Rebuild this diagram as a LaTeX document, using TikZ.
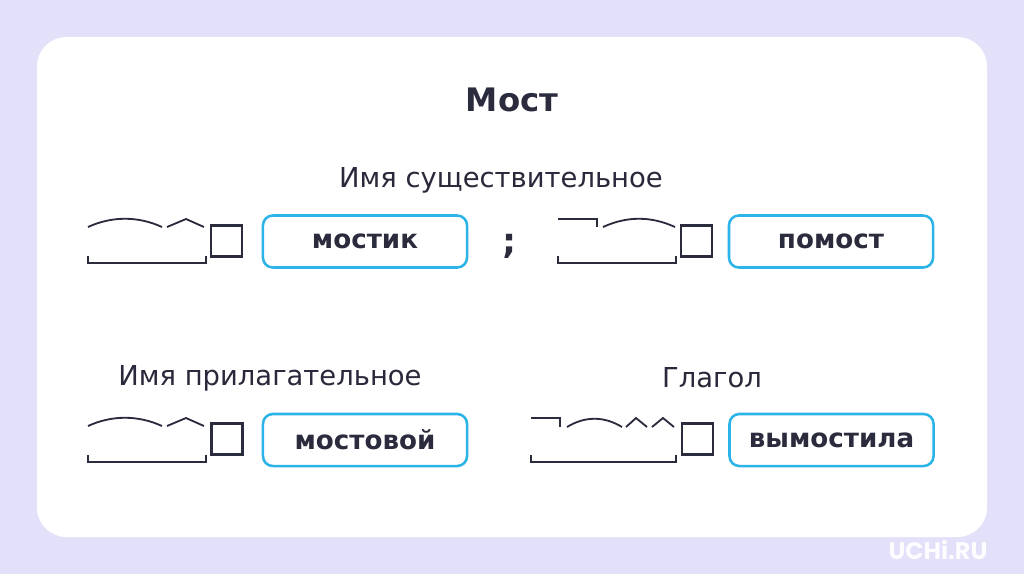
\documentclass[tikz,border=0pt]{standalone}
\usepackage{fontspec}
\setmainfont{DejaVu Sans}
\newfontfamily\logofont{Poppins}
\usetikzlibrary{positioning}
\definecolor{lavender}{RGB}{227,224,250}
\definecolor{ink}{HTML}{2B2B3E}
\definecolor{frame}{HTML}{2CB4E8}

\begin{document}
\begin{tikzpicture}[
  x=0.025cm,y=-0.025cm,
  word/.style={draw=frame,line width=1.8pt,rounded corners=7pt,minimum width=5.1cm,minimum height=1.3cm,font=\fontsize{18.6}{22}\selectfont\bfseries,text=ink},
  ending/.style={draw=ink,line width=1.6pt,minimum size=0.78cm,inner sep=0pt},
  morph/.style={draw=ink,line width=1.3pt},
  part/.style={font=\fontsize{19.5}{23}\selectfont,text=ink!95!black}
]
  % background and card
  \fill[lavender] (0,0) rectangle (1024,574);
  \fill[white,rounded corners=21pt] (37,37) rectangle (987,537);
  \useasboundingbox (0,0) rectangle (1024,574);

  \node[font=\fontsize{23}{27}\selectfont\bfseries,text=ink] (title) at (512,100) {Мост};
  \node[part] (noun) at (501,180) {Имя существительное};
  \node[part] (adj) at (270,378) {Имя прилагательное};
  \node[part] (verb) at (712,378) {Глагол};

  % row 1
  \node[ending] (end1) at (226.5,241) {};
  \node[word] (w1) at (365,241.5) {мостик};
  \node[font=\fontsize{25}{28}\selectfont\bfseries,text=ink] (semi) at (510,246) {;};
  \node[ending] (end2) at (696.5,241) {};
  \node[word] (w2) at (831,241.5) {помост};

  % row 2
  \node[ending] (end3) at (227,439) {};
  \node[word] (w3) at (365,440) {мостовой};
  \node[ending] (end4) at (697.5,439) {};
  \node[word] (w4) at (831.5,440) {вымостила};

  % мостик
  \draw[morph] (88,227) .. controls (112,216) and (138,216) .. (162,227);
  \draw[morph] (167,227) -- (186,219) -- (204,227);
  \draw[morph] (88,256) -- (88,263) -- (206,263) -- (206,256);

  % помост
  \draw[morph] (558,219) -- (597,219) -- (597,227);
  \draw[morph] (603,227) .. controls (627,216) and (651,216) .. (675,227);
  \draw[morph] (558,256) -- (558,263) -- (676,263) -- (676,256);

  % мостовой
  \draw[morph] (88,426) .. controls (112,415) and (138,415) .. (162,426);
  \draw[morph] (167,426) -- (186,418) -- (204,426);
  \draw[morph] (88,455) -- (88,462) -- (206,462) -- (206,455);

  % вымостила
  \draw[morph] (531,418) -- (560,418) -- (560,427);
  \draw[morph] (567,427) .. controls (585,416) and (604,416) .. (622,427);
  \draw[morph] (626,427) -- (636,418) -- (647,427);
  \draw[morph] (652,427) -- (663,418) -- (674,427);
  \draw[morph] (531,455) -- (531,462) -- (676,462) -- (676,455);

  \node[font=\logofont\fontsize{17}{19}\selectfont\bfseries,text=white!92!lavender] (logo) at (938,550) {UCHi.RU};
\end{tikzpicture}
\end{document}
